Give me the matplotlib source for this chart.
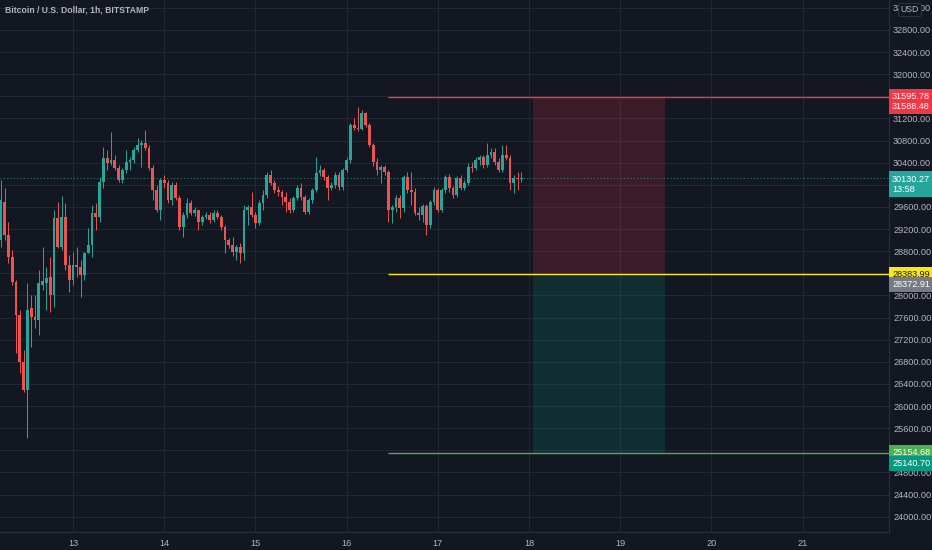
import matplotlib.pyplot as plt
import numpy as np
from matplotlib.transforms import blended_transform_factory

plt.rcParams['font.family'] = ['Liberation Sans Narrow', 'Liberation Sans', 'DejaVu Sans']

# hourly candles, hour index counted from the 13th 00:00
hours = np.arange(-19, 119)

opens = [29003, 29690, 29093, 28695, 28244, 27647, 26797, 26291, 27773, 27611,
         27556, 28189, 28225, 28334, 28006, 29401, 28876, 29419, 28551, 28280,
         28551, 28515, 28370, 28768, 28913, 29491, 29419, 30051, 30485, 30395,
         30449, 30305, 30088, 30268, 30413, 30449, 30630, 30720, 30757, 30666,
         30305, 29907, 29545, 30088, 30033, 29726, 29997, 29762, 29238, 29455,
         29672, 29491, 29545, 29328, 29419, 29455, 29364, 29491, 29419, 29238,
         29003, 28913, 28786, 28876, 28768, 29545, 29600, 29455, 29310, 29672,
         29816, 30178, 30033, 29907, 29871, 29780, 29690, 29545, 29762, 29943,
         29780, 29509, 29726, 29907, 30214, 30268, 30142, 29943, 29997, 30178,
         29961, 30268, 30449, 31082, 31028, 31010, 31299, 31082, 30720, 30413,
         30268, 30323, 30232, 29545, 29600, 29762, 29581, 30142, 29907, 29871,
         29491, 29455, 29618, 29274, 29690, 29907, 29545, 29907, 30142, 29943,
         29816, 30124, 29943, 30033, 30323, 30305, 30449, 30503, 30359, 30540,
         30594, 30413, 30268, 30540, 30485, 30033, 30124, 30106]

closes = [29726, 29093, 28695, 28244, 27647, 26797, 26291, 27737, 27611, 27556,
          28225, 28262, 28316, 28006, 29401, 28876, 29419, 28551, 28280, 28551,
          28515, 28370, 28768, 28913, 29491, 29419, 30051, 30485, 30395, 30449,
          30305, 30088, 30268, 30413, 30449, 30630, 30720, 30757, 30666, 30305,
          29907, 29545, 30088, 30033, 29726, 29997, 29762, 29238, 29455, 29672,
          29491, 29545, 29328, 29419, 29455, 29364, 29491, 29419, 29238, 29003,
          28913, 28786, 28876, 28768, 29545, 29600, 29455, 29310, 29672, 29816,
          30178, 30033, 29907, 29871, 29780, 29690, 29545, 29762, 29943, 29780,
          29509, 29726, 29907, 30214, 30268, 30142, 29943, 29997, 30178, 29961,
          30268, 30449, 31082, 31028, 31010, 31299, 31082, 30720, 30413, 30268,
          30323, 30232, 29545, 29600, 29762, 29581, 30142, 29907, 29871, 29491,
          29455, 29618, 29274, 29690, 29907, 29545, 29907, 30142, 29943, 29816,
          30124, 29943, 30033, 30323, 30305, 30449, 30503, 30359, 30540, 30594,
          30413, 30268, 30540, 30485, 30033, 30124, 30106, 30130]

highs = [30088, 29943, 29328, 28822, 28280, 27737, 27014, 28225, 28006, 28006,
         28460, 28876, 28515, 28695, 29545, 29690, 29798, 29672, 28732, 28786,
         28876, 28641, 28786, 29220, 29636, 29672, 30142, 30684, 30630, 30955,
         30540, 30359, 30305, 30630, 30503, 30684, 30847, 30811, 30992, 30720,
         30359, 29997, 30124, 30178, 30088, 30051, 30051, 29816, 29509, 29762,
         29726, 29600, 29545, 29455, 29509, 29509, 29545, 29545, 29455, 29274,
         29039, 29057, 28913, 28949, 29636, 29636, 29871, 29509, 29726, 29907,
         30232, 30268, 30088, 29979, 29907, 29871, 29762, 29798, 29997, 30033,
         29816, 29762, 29943, 30503, 30359, 30305, 30178, 30051, 30232, 30232,
         30305, 30503, 31118, 31209, 31407, 31353, 31317, 31118, 30757, 30485,
         30359, 30359, 30268, 29636, 29816, 29816, 30178, 30232, 30232, 29943,
         29600, 29654, 29654, 29726, 29961, 29943, 29943, 30178, 30196, 29979,
         30160, 30178, 30088, 30395, 30413, 30503, 30540, 30540, 30757, 30666,
         30666, 30485, 30720, 30720, 30540, 30178, 30232, 30232]

lows = [28876, 29003, 28587, 28189, 26960, 26598, 26255, 25423, 27068, 27412,
        27285, 28099, 27737, 27701, 27791, 28858, 28822, 28460, 28063, 28189,
        28334, 27972, 28280, 28768, 28695, 29184, 29328, 29943, 30268, 30359,
        30268, 30051, 30033, 30214, 30268, 30395, 30594, 30323, 30630, 30268,
        29726, 29509, 29364, 29943, 29672, 29636, 29726, 29184, 29057, 29401,
        29455, 29437, 29184, 29274, 29382, 29310, 29328, 29382, 29184, 28768,
        28858, 28714, 28641, 28587, 28650, 29274, 29419, 29220, 29274, 29545,
        29762, 29997, 29853, 29798, 29636, 29509, 29491, 29509, 29726, 29726,
        29473, 29473, 29672, 29871, 30160, 30088, 29726, 29907, 29943, 29907,
        29907, 30232, 30395, 30992, 30974, 30992, 31046, 30684, 30341, 30178,
        30033, 30178, 29328, 29310, 29509, 29401, 29509, 29853, 29636, 29455,
        29364, 29328, 29093, 29220, 29636, 29509, 29509, 29853, 29871, 29762,
        29780, 29907, 29907, 29997, 30232, 30268, 30359, 30305, 30323, 30485,
        30359, 30232, 30232, 30449, 29907, 29853, 29907, 30051]

day_labels = ['13', '14', '15', '16', '17', '18', '19', '20', '21']
price_ticks = np.arange(24000, 33201, 400)
hidden_ticks = [25200, 28400, 30000, 31600]  # sit under the price boxes

# short position tool
stop_price = 31595.78
stop_price2 = 31588.48
entry_price = 28383.99
entry_price2 = 28372.91
target_price = 25154.68
target_price2 = 25140.70
last_price = 30130.27
countdown = '13:58'

BG = '#131722'
UP = '#26a69a'
DOWN = '#ef5350'
GRID = '#232733'
TXT = '#b2b5be'
FS = 6.6

fig = plt.figure(figsize=(9.32, 5.5), dpi=100, facecolor=BG)
ax = fig.add_axes([0, 18 / 550, 889 / 932, 532 / 550])
ax.set_facecolor(BG)

o = np.array(opens)
c = np.array(closes)
h = np.maximum(np.array(highs), np.maximum(o, c))
l = np.minimum(np.array(lows), np.minimum(o, c))
colors = np.where(c >= o, UP, DOWN)

ax.vlines(hours, l, h, color=colors, linewidth=0.7, zorder=3)
body_h = np.maximum(np.abs(c - o), 12)
ax.bar(hours, body_h, bottom=np.minimum(o, c), width=0.78, color=colors,
       linewidth=0, zorder=4)

# position tool
ax.fill_between([121, 155.8], entry_price, stop_price, color='#f23645',
                alpha=0.18, linewidth=0, zorder=2)
ax.fill_between([121, 155.8], target_price, entry_price, color='#089981',
                alpha=0.18, linewidth=0, zorder=2)
ax.hlines(stop_price, 83, 300, color='#f23645', linewidth=1.0, zorder=5)
ax.hlines(entry_price, 83, 300, color='#f7e51f', linewidth=1.0, zorder=5)
ax.hlines(target_price, 83, 300, color='#4caf50', linewidth=1.0, zorder=5)

ax.axhline(last_price, color=UP, linewidth=0.8, linestyle=(0, (1, 2)),
           alpha=0.7, zorder=2)

ax.set_xlim(-73 / 3.8, (889 - 73) / 3.8)
ax.set_ylim(33342 - 18.08 * 532, 33342)

ax.set_xticks(np.arange(0, 24 * 9, 24))
ax.set_xticklabels(day_labels)
ax.set_yticks(price_ticks)
ax.set_yticklabels(['' if p in hidden_ticks else '%.2f' % p for p in price_ticks])
ax.yaxis.tick_right()
ax.tick_params(axis='both', length=0, colors=TXT, labelsize=FS)
ax.tick_params(axis='x', pad=5)
ax.tick_params(axis='y', pad=3)
ax.grid(True, color=GRID, linewidth=0.8)
ax.set_axisbelow(True)
for s in ['top', 'left']:
    ax.spines[s].set_visible(False)
ax.spines['right'].set_color('#2a2e39')
ax.spines['bottom'].set_color('#2a2e39')

ax.text(5 / 889, 1 - 10 / 532, 'Bitcoin / U.S. Dollar, 1h, BITSTAMP',
        transform=ax.transAxes, color=TXT, fontsize=6.2, fontweight='bold',
        va='center', ha='left')

# price labels on the scale
tr = blended_transform_factory(fig.transFigure, ax.transData)
x_lab = 892 / 932


def price_box(y, text, fc, tc='white'):
    ax.text(x_lab, y, text, transform=tr, color=tc, fontsize=FS,
            va='center', ha='left', linespacing=1.2, clip_on=False, zorder=10,
            bbox=dict(boxstyle='square,pad=0.35', fc=fc, ec='none'))


price_box(stop_price - 90, '%.2f\n%.2f' % (stop_price, stop_price2), '#f23645')
price_box(last_price - 120, '%.2f\n%s' % (last_price, countdown), UP)
price_box(entry_price, '%.2f' % entry_price, '#f7e51f', tc='#131722')
price_box(entry_price - 190, '%.2f' % entry_price2, '#787b86')
price_box(target_price, '%.2f' % target_price, '#4caf50')
price_box(target_price - 190, '%.2f' % target_price2, '#089981')
ax.text(910 / 932, 1 - 10 / 550, 'USD', transform=fig.transFigure,
        color=TXT, fontsize=6.3, ha='center', va='center', zorder=10,
        bbox=dict(boxstyle='round,pad=0.25', fc=BG, ec='#363a45', lw=0.6))

fig.savefig('out.png', dpi=100, facecolor=BG)
